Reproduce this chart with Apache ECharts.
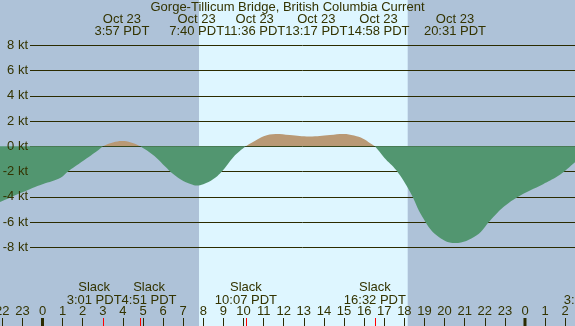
<!DOCTYPE html>
<html>
<head>
<meta charset="utf-8">
<script src="https://cdn.jsdelivr.net/npm/echarts@6/dist/echarts.min.js"></script>
<style>
  html, body { margin: 0; padding: 0; background: #aec2d8; }
  #chart { width: 575px; height: 326px; }
</style>
</head>
<body>
<div id="chart"></div>
<script>
// hours from midnight Oct 23 (PDT), current speed in knots (+ flood, - ebb)
const hours = [-2.3, -1.6, -1.0, -0.5, 0.0, 0.5, 0.9, 1.3, 1.8, 2.3, 2.7, 3.02, 3.5, 3.95, 4.4, 4.85,
  5.3, 5.66, 6.1, 6.5, 7.0, 7.4, 7.67, 8.0, 8.5, 9.0, 9.5, 9.8, 10.12, 10.6, 11.0, 11.6, 12.3,
  13.28, 14.3, 14.97, 15.5, 15.95, 16.3, 16.53, 17.0, 17.6, 18.28, 18.9, 19.6, 20.52, 21.6,
  22.26, 22.9, 23.6, 24.25, 24.9, 25.6, 26.1, 26.5, 26.8];
const speeds = [-4.55, -4.05, -3.65, -3.3, -3.0, -2.75, -2.5, -1.95, -1.4, -0.85, -0.4, 0, 0.3, 0.42, 0.3, 0,
  -0.45, -0.9, -1.6, -2.2, -2.75, -3.0, -3.1, -3.0, -2.6, -1.85, -0.85, -0.4, 0, 0.45, 0.8, 0.98, 0.9,
  0.78, 0.9, 0.98, 0.85, 0.6, 0.25, 0, -0.9, -1.9, -3.6, -5.6, -7.05, -7.67, -7.05,
  -5.9, -4.85, -4.05, -3.5, -3.0, -2.4, -1.8, -1.25, -0.9];

const peakTimes = [3.95, 7.667, 11.6, 13.283, 14.967, 20.517];
const peakLabels = ['3:57 PDT', '7:40 PDT', '11:36 PDT', '13:17 PDT', '14:58 PDT', '20:31 PDT'];
const peakDate = 'Oct 23';

const slackTimes = [3.017, 4.85, 10.117, 16.533, 27.3];
const slackLabels = ['3:01 PDT', '4:51 PDT', '10:07 PDT', '16:32 PDT', '3:18 PDT'];

const midnights = [0, 24];
const sunrise = 7.785;
const sunset = 18.166;

const TEXT = '#333300';
const LINE = '#2b2b00';
const FLOOD = '#b99975';
const EBB = '#529670';
const FONT = 'Liberation Sans';
const FS = 13;

// horizontal shifts so neighbouring time labels don't overlap (filled after first layout)
let peakShift = peakTimes.map(() => 0);
let slackShift = slackTimes.map(() => 0);

const chart = echarts.init(document.getElementById('chart'));

function textItem(x, y, txt) {
  return {
    type: 'text',
    style: {
      text: txt, x: x, y: y, align: 'center', verticalAlign: 'middle',
      fill: TEXT, fontSize: FS, fontFamily: FONT, lineHeight: 12.4
    }
  };
}

function option() {
  return {
    animation: false,
    title: {
      text: 'Gorge-Tillicum Bridge, British Columbia Current',
      left: 'center', top: 1, padding: 0,
      textStyle: { color: TEXT, fontSize: FS, fontWeight: 'normal', fontFamily: FONT }
    },
    grid: [
      { left: -17.8, right: -10.3, top: 0, bottom: 0, outerBoundsMode: 'none' },
      { left: 30, right: 0, top: 45.3, bottom: 78.7, outerBoundsMode: 'none' }
    ],
    xAxis: [
      {
        gridIndex: 0, type: 'value', min: -3, max: 27, interval: 1,
        axisLine: { show: false, onZero: false },
        splitLine: { show: false },
        axisTick: { inside: true, length: 8, lineStyle: { color: LINE } },
        axisLabel: {
          inside: true, margin: 8, color: TEXT, fontSize: FS, fontFamily: FONT,
          formatter: v => String(((v % 24) + 24) % 24)
        }
      },
      { gridIndex: 1, type: 'value', min: 0, max: 1, show: false }
    ],
    yAxis: [
      { gridIndex: 0, type: 'value', min: -14.239, max: 11.593, show: false },
      {
        gridIndex: 1, type: 'value', min: -8, max: 8, interval: 2, position: 'left', z: 1,
        axisLine: { show: false }, axisTick: { show: false }, axisLabel: { show: false },
        splitLine: { lineStyle: { color: LINE, width: 1 } }
      },
      {
        gridIndex: 1, type: 'value', min: -8, max: 8, interval: 2, position: 'left', z: 5,
        axisLine: { show: false }, axisTick: { show: false }, splitLine: { show: false },
        axisLabel: {
          margin: 2, color: TEXT, fontSize: FS, fontFamily: FONT,
          formatter: v => v + ' kt'
        }
      }
    ],
    series: [
      {
        id: 'current',
        type: 'line', xAxisIndex: 0, yAxisIndex: 0, z: 2,
        data: hours.map((h, i) => [h, speeds[i]]),
        smooth: 0.4, symbol: 'none',
        lineStyle: { width: 0 },
        areaStyle: { opacity: 1, color: EBB }
      },
      {
        // daylight band
        type: 'custom', xAxisIndex: 0, yAxisIndex: 0, z: 0, silent: true,
        data: [[sunrise, 0, sunset]],
        encode: { x: 0, y: 1 },
        renderItem: (params, api) => {
          const cs = params.coordSys;
          const x0 = api.coord([api.value(0), 0])[0];
          const x1 = api.coord([api.value(2), 0])[0];
          return { type: 'rect', shape: { x: x0, y: cs.y, width: x1 - x0, height: cs.height }, style: { fill: '#def6ff' } };
        }
      },
      {
        // max flood / ebb labels along the top
        type: 'custom', xAxisIndex: 0, yAxisIndex: 0, z: 5, silent: true,
        data: peakTimes.map((t, i) => [t, 0, i]),
        encode: { x: 0, y: 1 },
        renderItem: (params, api) => {
          const i = api.value(2);
          const x = api.coord([api.value(0), 0])[0] + peakShift[i];
          return textItem(x, 25.6, peakDate + '\n' + peakLabels[i]);
        }
      },
      {
        // slack labels along the bottom
        type: 'custom', xAxisIndex: 0, yAxisIndex: 0, z: 5, silent: true,
        data: slackTimes.map((t, i) => [t, 0, i]),
        encode: { x: 0, y: 1 },
        renderItem: (params, api) => {
          const i = api.value(2);
          const x = api.coord([api.value(0), 0])[0] + slackShift[i];
          return textItem(x, 293.8, 'Slack\n' + slackLabels[i]);
        }
      },
      {
        // red slack ticks
        type: 'custom', xAxisIndex: 0, yAxisIndex: 0, z: 6, silent: true,
        data: slackTimes.map(t => [t, 0]),
        encode: { x: 0, y: 1 },
        renderItem: (params, api) => {
          const cs = params.coordSys;
          const x = Math.round(api.coord([api.value(0), 0])[0]) + 0.5;
          const yb = cs.y + cs.height;
          return { type: 'line', shape: { x1: x, y1: yb - 8, x2: x, y2: yb }, style: { stroke: '#ff0000', lineWidth: 1 } };
        }
      },
      {
        // midnight ticks
        type: 'custom', xAxisIndex: 0, yAxisIndex: 0, z: 6, silent: true,
        data: midnights.map(t => [t, 0]),
        encode: { x: 0, y: 1 },
        renderItem: (params, api) => {
          const cs = params.coordSys;
          const x = api.coord([api.value(0), 0])[0];
          const yb = cs.y + cs.height;
          return { type: 'rect', shape: { x: x - 1.5, y: yb - 8, width: 3, height: 8 }, style: { fill: LINE } };
        }
      }
    ]
  };
}

// group labels whose boxes overlap, pack each group around its mean anchor,
// then push groups right so they don't run into the previous one
function spreadLabels(anchors, texts) {
  const ctx = document.createElement('canvas').getContext('2d');
  ctx.font = FS + 'px "' + FONT + '"';
  const w = texts.map(t => ctx.measureText(t).width);
  const groups = [];
  anchors.forEach((a, i) => {
    const last = groups[groups.length - 1];
    if (last) {
      const j = last[last.length - 1];
      if (anchors[j] + w[j] / 2 > a - w[i] / 2) { last.push(i); return; }
    }
    groups.push([i]);
  });
  const centers = [];
  let prevEnd = -Infinity;
  groups.forEach(g => {
    const total = g.reduce((s, i) => s + w[i], 0);
    const mean = g.reduce((s, i) => s + anchors[i], 0) / g.length;
    let x = Math.max(mean - total / 2, prevEnd);
    g.forEach(i => { centers[i] = x + w[i] / 2; x += w[i]; });
    prevEnd = x;
  });
  return centers.map((c, i) => c - anchors[i]);
}

chart.setOption(option());

const toX = t => chart.convertToPixel({ gridIndex: 0 }, [t, 0])[0];
peakShift = spreadLabels(peakTimes.map(toX), peakLabels);
slackShift = spreadLabels(slackTimes.map(toX), slackLabels);

// split the area fill colour at the zero line: flood above, ebb below
const y0 = chart.convertToPixel({ gridIndex: 0 }, [0, 0])[1];
const opt = option();
opt.series[0].areaStyle.color = new echarts.graphic.LinearGradient(0, y0 - 1, 0, y0 + 1, [
  { offset: 0, color: FLOOD }, { offset: 0.5, color: FLOOD },
  { offset: 0.5, color: EBB }, { offset: 1, color: EBB }
], true);
chart.setOption(opt, true);
</script>
</body>
</html>
